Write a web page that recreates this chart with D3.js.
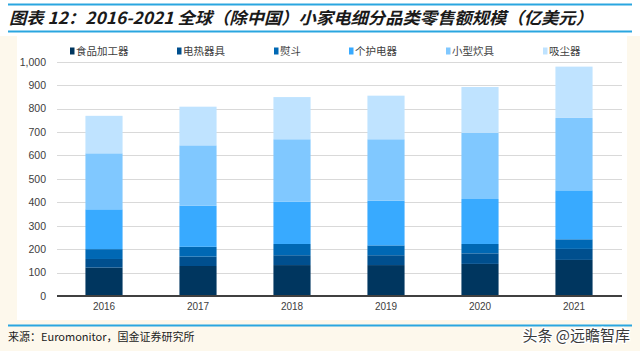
<!DOCTYPE html>
<html><head><meta charset="utf-8">
<script src="https://cdn.jsdelivr.net/npm/d3@7"></script>
<style>
html,body{margin:0;padding:0;background:#fdf8ec;}
svg{display:block;}
</style></head>
<body>
<svg id="c" width="640" height="351"></svg>
<script>
const years = ['2016','2017','2018','2019','2020','2021'];
const seriesNames = ['食品加工器','电热器具','熨斗','个护电器','小型炊具','吸尘器'];
const food     = [121,128,132,132,137,154];
const heat     = [37,40,42,42,45,47];
const iron     = [42,42,48,42,40,41];
const personal = [170,175,180,191,192,209];
const cooking  = [239,258,267,262,282,309];
const vacuum   = [160,165,180,186,196,219];
const yTicks = [0,100,200,300,400,500,600,700,800,900,1000];
const colors = ['#00365f','#004f8e','#0068b4','#38aaff','#80c8ff','#bfe3ff'];

const seriesVals = [food,heat,iron,personal,cooking,vacuum];
const table = years.map((y,i)=>{const o={year:y}; seriesNames.forEach((n,j)=>o[n]=seriesVals[j][i]); return o;});
const stack = d3.stack().keys(seriesNames)(table);

const svg = d3.select('#c');
const FONT = '"Liberation Sans", Arial, "Noto Sans CJK SC", sans-serif';
const CJK = '"Noto Sans CJK SC", sans-serif';

// panels
svg.append('rect').attr('x',0).attr('y',0).attr('width',640).attr('height',36).attr('fill','#ffffff');
svg.append('rect').attr('x',17).attr('y',36).attr('width',610).attr('height',284).attr('fill','#ffffff');

// title lines
svg.append('line').attr('x1',8).attr('x2',632).attr('y1',4.5).attr('y2',4.5).attr('stroke','#2aa6e0').attr('stroke-width',2);
svg.append('line').attr('x1',8).attr('x2',632).attr('y1',31.5).attr('y2',31.5).attr('stroke','#2aa6e0').attr('stroke-width',2);
svg.append('text').attr('x',9).attr('y',24).attr('font-family',CJK).attr('font-weight','bold')
  .attr('font-size',16.5).attr('font-style','italic').attr('fill','#1a1a1a')
  .attr('textLength',584).attr('lengthAdjust','spacingAndGlyphs')
  .text('图表 12：2016-2021 全球（除中国）小家电细分品类零售额规模（亿美元）');

const x = d3.scaleBand().domain(years).range([57,621]).paddingInner(0.605).paddingOuter(0.3025);
const y = d3.scaleLinear().domain([0,1000]).range([296,61.7]);

// gridlines
svg.append('g').selectAll('line').data(yTicks.filter(d=>d>0)).join('line')
  .attr('x1',57).attr('x2',622).attr('y1',d=>Math.round(y(d))+0.5).attr('y2',d=>Math.round(y(d))+0.5)
  .attr('stroke','#d9d9d9').attr('stroke-width',1.2);

// y axis labels
const yAxis = d3.axisLeft(y).tickValues(yTicks).tickFormat(d3.format(',')).tickSize(0).tickPadding(0);
const gy = svg.append('g').attr('transform','translate(46,0)').call(yAxis);
gy.select('.domain').remove();
gy.selectAll('text').attr('font-family',FONT).attr('font-size',10.5).attr('fill','#404040');

// bars
svg.append('g').selectAll('g').data(stack).join('g').attr('fill',(d,i)=>colors[i])
  .selectAll('rect').data(d=>d).join('rect')
  .attr('x',d=>x(d.data.year)).attr('width',x.bandwidth())
  .attr('y',d=>y(d[1])).attr('height',d=>y(d[0])-y(d[1]));

// x axis
const xAxis = d3.axisBottom(x).tickSize(0).tickPadding(7);
const gx = svg.append('g').attr('transform','translate(0,296)').call(xAxis);
gx.select('.domain').attr('d','M57,0H622').attr('stroke','#404040').attr('stroke-width',2);
gx.selectAll('text').attr('font-family',FONT).attr('font-size',10).attr('fill','#404040');

// legend
const legX = [70,177,274,349,446,543];
const leg = svg.append('g').selectAll('g').data(seriesNames).join('g')
  .attr('transform',(d,i)=>`translate(${legX[i]},51)`);
leg.append('rect').attr('x',0).attr('y',-3.5).attr('width',4.5).attr('height',7).attr('fill',(d,i)=>colors[i]);
leg.append('text').attr('x',6).attr('y',4).attr('font-family',CJK).attr('font-size',10.5).attr('fill','#404040').text(d=>d);

// source
svg.append('line').attr('x1',8).attr('x2',632).attr('y1',325.5).attr('y2',325.5).attr('stroke','#2aa6e0').attr('stroke-width',2);
svg.append('text').attr('x',8).attr('y',341).attr('font-family',CJK).attr('font-size',11).attr('fill','#222')
  .text('来源：Euromonitor，国金证券研究所');
svg.append('text').attr('x',630).attr('y',341).attr('text-anchor','end').attr('font-family',CJK)
  .attr('font-size',15).attr('fill','#3a3a3a').attr('stroke','#ffffff').attr('stroke-width',2.5).attr('paint-order','stroke')
  .text('头条 @远瞻智库');
</script>
</body></html>
